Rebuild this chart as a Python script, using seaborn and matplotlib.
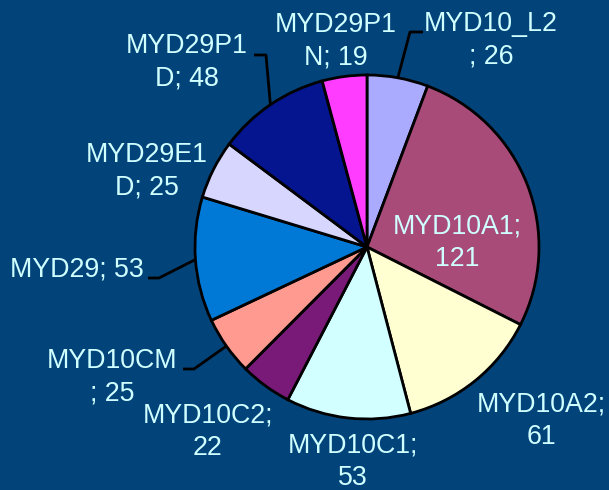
import seaborn as sns
import matplotlib.pyplot as plt
import numpy as np

# data
products = ["MYD10_L2", "MYD10A1", "MYD10A2", "MYD10C1", "MYD10C2",
            "MYD10CM", "MYD29", "MYD29E1D", "MYD29P1D", "MYD29P1N"]
counts = [26, 121, 61, 53, 22, 25, 53, 25, 48, 19]
# how each label is broken over lines (as in the original chart)
label_text = ["MYD10_L2\n; 26", "MYD10A1;\n121", "MYD10A2;\n61", "MYD10C1;\n53",
              "MYD10C2;\n22", "MYD10CM\n; 25", "MYD29; 53", "MYD29E1\nD; 25",
              "MYD29P1\nD; 48", "MYD29P1\nN; 19"]
slice_colors = ["#AAAAFF", "#A84B78", "#FFFFD2", "#D2FFFF", "#7A1A78",
                "#FF9A90", "#0079D6", "#D6D6FF", "#05148F", "#FF3CFF"]

# layout (pixels, origin top-left)
W, H = 609, 490
label_pos = [(491, 40), (457, 243), (541, 421), (353, 462), (208, 432),
             (112, 377), (77, 270), (147, 171), (187, 62), (336, 41)]
# elbow points of leader lines, None = no leader
leader_elbow = [[(410, 32), (423, 32)], None, None, None, None,
                [(194, 369), (183, 369)], [(159, 278), (148, 278)], None,
                [(266, 55), (254, 55)], None]

bg = "#02447A"
txt_color = "#D0FFFF"

sns.set_style("white")
plt.rcParams["font.family"] = ["Liberation Sans", "DejaVu Sans"]

fig = plt.figure(figsize=(W / 100, H / 100), dpi=100, facecolor=bg)
ax = fig.add_axes([0, 0, 1, 1])
ax.set_facecolor(bg)

wedges, _ = ax.pie(counts, colors=sns.color_palette(slice_colors), startangle=90,
                   counterclock=False, center=(367, H - 247), radius=172,
                   wedgeprops=dict(edgecolor="black", linewidth=2))
ax.set_xlim(0, W)
ax.set_ylim(0, H)
ax.set_aspect("equal")
ax.axis("off")

for w, lab, (x, y), elbow in zip(wedges, label_text, label_pos, leader_elbow):
    ax.text(x, H - y, lab, ha="center", va="center", multialignment="center",
            fontsize=19.3, color=txt_color, linespacing=1.32)
    if elbow is not None:
        ang = np.deg2rad((w.theta1 + w.theta2) / 2)
        sx = w.center[0] + w.r * np.cos(ang)
        sy = w.center[1] + w.r * np.sin(ang)
        xs = [sx] + [p[0] for p in elbow]
        ys = [sy] + [H - p[1] for p in elbow]
        ax.plot(xs, ys, color="black", lw=2, solid_capstyle="butt")

fig.savefig("out.png", dpi=100, facecolor=bg)
